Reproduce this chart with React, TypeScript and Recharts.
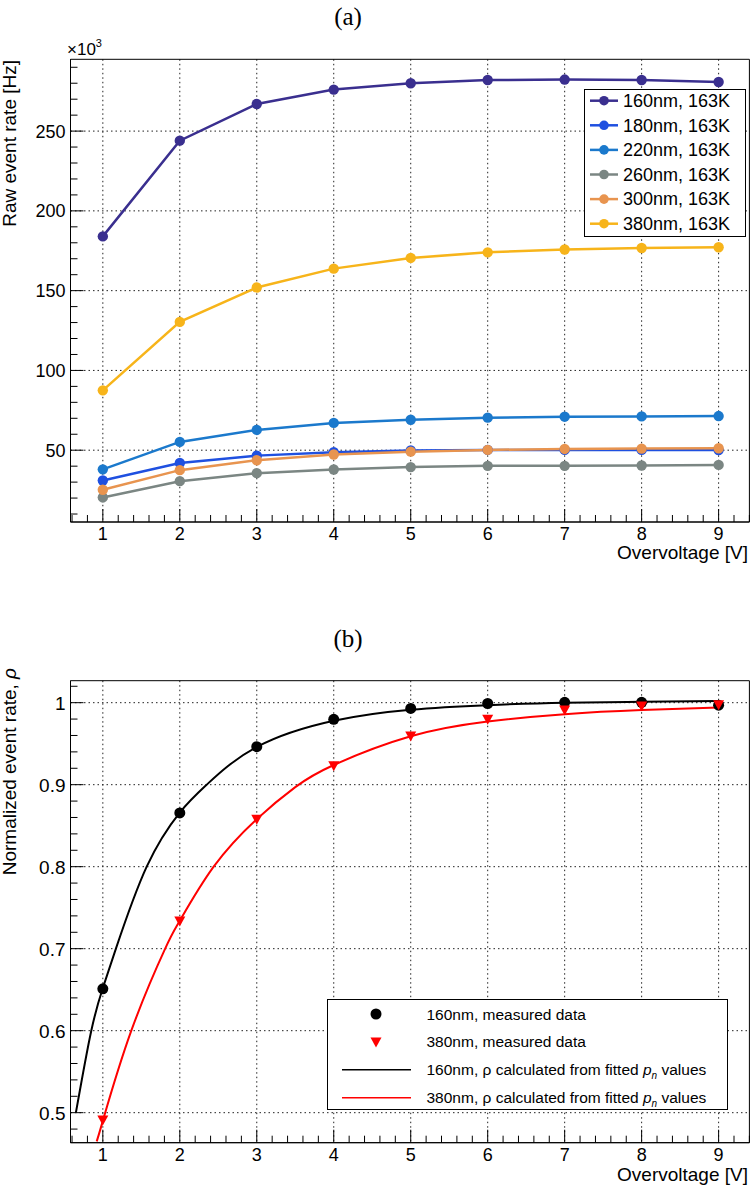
import { LineChart, Line, XAxis, YAxis, CartesianGrid, ReferenceArea } from "recharts";

const SANS = '"Liberation Sans", Arial, Helvetica, sans-serif';
const SERIF = '"Liberation Serif", "Times New Roman", serif';

// (a) raw event rate vs overvoltage, in units of 10^3 Hz
const overvoltage = [1, 2, 3, 4, 5, 6, 7, 8, 9];
const rate160 = [184, 244, 267, 276, 280, 282, 282.3, 282, 280.8];
const rate180 = [31, 42, 46.6, 48.7, 49.8, 50.2, 50.2, 50.2, 50.1];
const rate220 = [38, 55.2, 62.7, 67.1, 69.1, 70.4, 71, 71.2, 71.4];
const rate260 = [20.4, 30.6, 35.6, 37.9, 39.4, 40.2, 40.2, 40.4, 40.8];
const rate300 = [25.2, 37.5, 43.7, 47.3, 49.1, 50.2, 50.8, 51, 51.2];
const rate380 = [87.5, 130.4, 152, 163.8, 170.5, 174, 175.8, 176.7, 177.2];

const rawSeries = [
  { key: "r160", name: "160nm, 163K", color: "#3a2f8f", values: rate160 },
  { key: "r180", name: "180nm, 163K", color: "#1f50e0", values: rate180 },
  { key: "r220", name: "220nm, 163K", color: "#1b79cc", values: rate220 },
  { key: "r260", name: "260nm, 163K", color: "#7b8683", values: rate260 },
  { key: "r300", name: "300nm, 163K", color: "#e8944f", values: rate300 },
  { key: "r380", name: "380nm, 163K", color: "#f7b41a", values: rate380 },
];

const rawTable = overvoltage.map((v, i) => {
  const row: Record<string, number> = { v };
  rawSeries.forEach((s) => (row[s.key] = s.values[i]));
  return row;
});

// (b) normalized event rate
const measuredV = [1, 2, 3, 4, 5, 6, 7, 8, 9];
const rho160 = [0.651, 0.8655, 0.9463, 0.9797, 0.993, 0.999, 1.0005, 1.0005, 0.997];
const rho380 = [0.491, 0.7338, 0.8577, 0.9232, 0.9594, 0.9797, 0.9911, 0.996, 0.9976];

// fitted curves
const fitV160 = [0.65, 0.85, 1, 1.17, 1.57, 2, 2.35, 3, 4, 5, 6, 7, 8, 9];
const fit160 = [0.5, 0.6, 0.652, 0.7, 0.8, 0.866, 0.9, 0.946, 0.978, 0.9915, 0.997, 1.0, 1.001, 1.002];
const fitV380 = [0.92, 1, 1.37, 1.81, 2, 2.44, 3, 3.5, 4, 5, 6, 7, 8, 9];
const fit380 = [0.465, 0.49, 0.6, 0.7, 0.734, 0.8, 0.858, 0.897, 0.924, 0.959, 0.977, 0.986, 0.991, 0.994];

const pairs = (xs: number[], ys: number[]) => xs.map((v, i) => ({ v, rho: ys[i] }));

// axes
const range = (a: number, b: number, s: number) => {
  const out: number[] = [];
  for (let i = 0; a + i * s <= b + 1e-9; i++) out.push(+(a + i * s).toFixed(3));
  return out;
};
const X_DOMAIN: [number, number] = [0.58, 9.4];
const xMajor = [1, 2, 3, 4, 5, 6, 7, 8, 9];
const xTicks = range(0.6, 9.4, 0.2);
const RAW_DOMAIN: [number, number] = [5, 295];
const rawMajor = [50, 100, 150, 200, 250];
const rawTicks = range(10, 290, 10);
const RHO_DOMAIN: [number, number] = [0.4634, 1.0268];
const rhoMajor = [0.5, 0.6, 0.7, 0.8, 0.9, 1];
const rhoTicks = range(0.48, 1.02, 0.02);

const isMajor = (v: number, major: number[]) => major.some((m) => Math.abs(m - v) < 1e-6);

const makeXTick = (labelDy: number) => (props: any) => {
  const { x, y, payload } = props;
  const big = isMajor(payload.value, xMajor);
  return (
    <g>
      <line x1={x} x2={x} y1={y} y2={y - (big ? 13 : 7)} stroke="#000" strokeWidth={1} />
      {big && (
        <text x={x} y={y + labelDy} textAnchor="middle" fontFamily={SANS} fontSize={18} fill="#000">
          {payload.value}
        </text>
      )}
    </g>
  );
};

const makeYTick = (major: number[], fontSize: number) => (props: any) => {
  const { x, y, payload } = props;
  const big = isMajor(payload.value, major);
  return (
    <g>
      <line x1={x} x2={x + (big ? 13 : 7)} y1={y} y2={y} stroke="#000" strokeWidth={1} />
      {big && (
        <text x={x - 5} y={y + fontSize * 0.36} textAnchor="end" fontFamily={SANS} fontSize={fontSize} fill="#000">
          {payload.value}
        </text>
      )}
    </g>
  );
};

function RawChart() {
  return (
    <LineChart width={751} height={600} data={rawTable} margin={{ top: 59.3, right: 1.6, bottom: 48, left: 10 }}>
      <CartesianGrid
        horizontalValues={rawMajor}
        verticalValues={xMajor}
        stroke="#222"
        strokeDasharray="1.5 3"
      />
      <XAxis
        dataKey="v"
        type="number"
        domain={X_DOMAIN}
        allowDataOverflow
        ticks={xTicks}
        interval={0}
        tickSize={0}
        tickMargin={0}
        tickLine={false}
        height={30}
        axisLine={{ stroke: "#000" }}
        tick={makeXTick(18)}
      />
      <YAxis
        type="number"
        domain={RAW_DOMAIN}
        allowDataOverflow
        ticks={rawTicks}
        interval={0}
        tickSize={0}
        tickMargin={0}
        tickLine={false}
        width={60.5}
        axisLine={{ stroke: "#000" }}
        tick={makeYTick(rawMajor, 18)}
      />
      <ReferenceArea
        x1={X_DOMAIN[0]}
        x2={X_DOMAIN[1]}
        y1={RAW_DOMAIN[0]}
        y2={RAW_DOMAIN[1]}
        fill="none"
        stroke="#000"
        strokeWidth={1}
        ifOverflow="visible"
      />
      {rawSeries.map((s) => (
        <Line
          key={s.key}
          dataKey={s.key}
          type="linear"
          stroke={s.color}
          strokeWidth={2.5}
          dot={{ r: 5.2, fill: s.color, stroke: s.color, strokeWidth: 0 }}
          activeDot={false}
          isAnimationActive={false}
        />
      ))}
    </LineChart>
  );
}

const TriangleDot = (props: any) => {
  const { cx, cy } = props;
  if (cx == null || cy == null) return null;
  return <polygon points={`${cx - 5.5},${cy - 4.5} ${cx + 5.5},${cy - 4.5} ${cx},${cy + 5.5}`} fill="#ff0000" />;
};

function RhoChart() {
  return (
    <LineChart width={751} height={566} margin={{ top: 60.7, right: 1.6, bottom: 13.3, left: 10 }}>
      <CartesianGrid
        horizontalValues={rhoMajor}
        verticalValues={xMajor}
        stroke="#222"
        strokeDasharray="1.5 3"
      />
      <XAxis
        dataKey="v"
        type="number"
        domain={X_DOMAIN}
        allowDataOverflow
        ticks={xTicks}
        interval={0}
        tickSize={0}
        tickMargin={0}
        tickLine={false}
        height={30}
        axisLine={{ stroke: "#000" }}
        tick={makeXTick(18)}
      />
      <YAxis
        type="number"
        domain={RHO_DOMAIN}
        allowDataOverflow
        ticks={rhoTicks}
        interval={0}
        tickSize={0}
        tickMargin={0}
        tickLine={false}
        width={60.5}
        axisLine={{ stroke: "#000" }}
        tick={makeYTick(rhoMajor, 19)}
      />
      <ReferenceArea
        x1={X_DOMAIN[0]}
        x2={X_DOMAIN[1]}
        y1={RHO_DOMAIN[0]}
        y2={RHO_DOMAIN[1]}
        fill="none"
        stroke="#000"
        strokeWidth={1}
        ifOverflow="visible"
      />
      <Line
        data={pairs(fitV160, fit160)}
        dataKey="rho"
        type="natural"
        stroke="#000"
        strokeWidth={2}
        dot={false}
        activeDot={false}
        isAnimationActive={false}
      />
      <Line
        data={pairs(fitV380, fit380)}
        dataKey="rho"
        type="natural"
        stroke="#ff0000"
        strokeWidth={2}
        dot={false}
        activeDot={false}
        isAnimationActive={false}
      />
      <Line
        data={pairs(measuredV, rho160)}
        dataKey="rho"
        stroke="none"
        dot={{ r: 5.5, fill: "#000", stroke: "none" }}
        activeDot={false}
        isAnimationActive={false}
      />
      <Line
        data={pairs(measuredV, rho380)}
        dataKey="rho"
        stroke="none"
        dot={<TriangleDot />}
        activeDot={false}
        isAnimationActive={false}
      />
    </LineChart>
  );
}

const pn = (
  <>
    <tspan fontStyle="italic">p</tspan>
    <tspan fontStyle="italic" fontSize={10} dy={4}>n</tspan>
    <tspan dy={-4}> values</tspan>
  </>
);

function Overlay() {
  const rhoLegend = [
    { label: <>160nm, measured data</>, kind: "circle", color: "#000" },
    { label: <>380nm, measured data</>, kind: "triangle", color: "#ff0000" },
    { label: <>160nm, ρ calculated from fitted {pn}</>, kind: "line", color: "#000" },
    { label: <>380nm, ρ calculated from fitted {pn}</>, kind: "line", color: "#ff0000" },
  ];
  return (
    <svg width={751} height={1186} style={{ position: "absolute", left: 0, top: 0, pointerEvents: "none" }}>
      <text x={348} y={25} textAnchor="middle" fontFamily={SERIF} fontSize={25}>(a)</text>
      <text x={348} y={647} textAnchor="middle" fontFamily={SERIF} fontSize={25}>(b)</text>

      <text x={67} y={55} fontFamily={SANS} fontSize={17}>
        ×10<tspan fontSize={11} dy={-8}>3</tspan>
      </text>
      <text transform="translate(16,60) rotate(-90)" textAnchor="end" fontFamily={SANS} fontSize={19}>
        Raw event rate [Hz]
      </text>
      <text x={748} y={559} textAnchor="end" fontFamily={SANS} fontSize={19}>Overvoltage [V]</text>

      <text transform="translate(16,668) rotate(-90)" textAnchor="end" fontFamily={SANS} fontSize={19}>
        Normalized event rate, <tspan fontStyle="italic">ρ</tspan>
      </text>
      <text x={748} y={1181} textAnchor="end" fontFamily={SANS} fontSize={19}>Overvoltage [V]</text>

      {/* legend (a) */}
      <rect x={584.5} y={89.5} width={161} height={147} fill="#fff" stroke="#000" strokeWidth={1} />
      {rawSeries.map((s, i) => {
        const cy = 100.7 + i * 24.6;
        return (
          <g key={s.key}>
            <line x1={590} x2={618} y1={cy} y2={cy} stroke={s.color} strokeWidth={2.5} />
            <circle cx={604} cy={cy} r={4.8} fill={s.color} />
            <text x={623} y={cy + 6.3} fontFamily={SANS} fontSize={18}>{s.name}</text>
          </g>
        );
      })}

      {/* legend (b) */}
      <rect x={327.5} y={999.5} width={400} height={110} fill="#fff" stroke="#000" strokeWidth={1} />
      {rhoLegend.map((e, i) => {
        const cy = 1014 + i * 27.9;
        return (
          <g key={i}>
            {e.kind === "circle" && <circle cx={376} cy={cy} r={5.5} fill={e.color} />}
            {e.kind === "triangle" && (
              <polygon points={`${376 - 5.5},${cy - 4.5} ${376 + 5.5},${cy - 4.5} ${376},${cy + 5.5}`} fill={e.color} />
            )}
            {e.kind === "line" && <line x1={342} x2={411} y1={cy} y2={cy} stroke={e.color} strokeWidth={1.5} />}
            <text x={426.5} y={cy + 5.5} fontFamily={SANS} fontSize={15.5}>{e.label}</text>
          </g>
        );
      })}
    </svg>
  );
}

export default function App() {
  return (
    <div style={{ position: "absolute", left: 0, top: 0, width: 751, height: 1186, background: "#fff" }}>
      <div style={{ position: "absolute", left: 0, top: 0 }}>
        <RawChart />
      </div>
      <div style={{ position: "absolute", left: 0, top: 620 }}>
        <RhoChart />
      </div>
      <Overlay />
    </div>
  );
}
